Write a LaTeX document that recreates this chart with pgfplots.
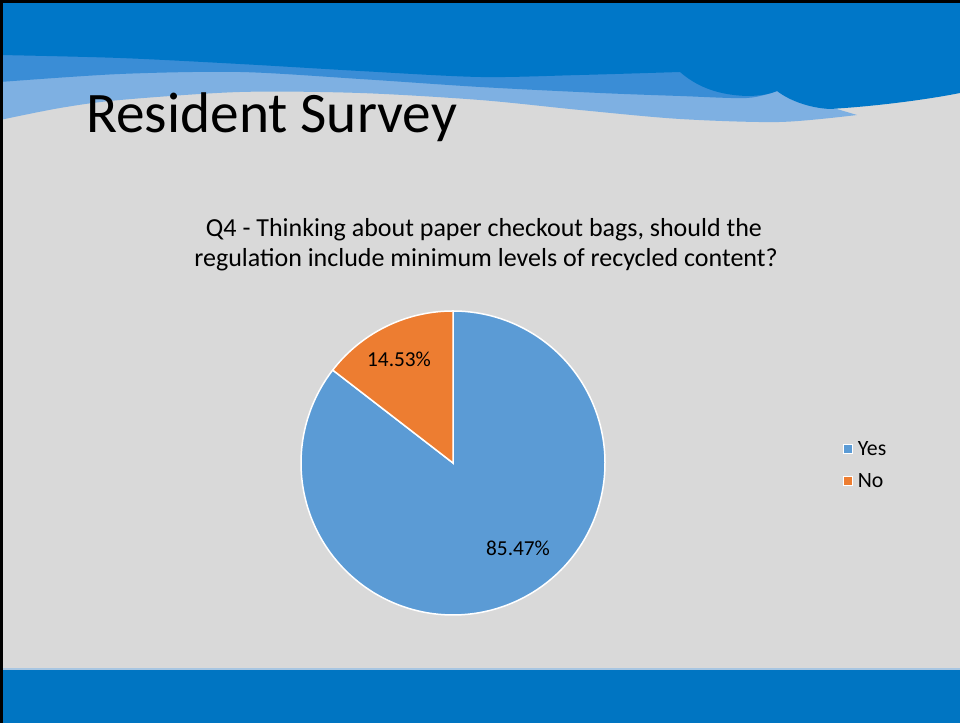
\documentclass[border=0pt]{standalone}
\usepackage{pgfplots}
\pgfplotsset{compat=1.18}
\usepackage{fontspec}
\setmainfont{Carlito}
\definecolor{bg}{HTML}{D9D9D9}
\definecolor{darkb}{HTML}{0077C8}
\definecolor{midb}{HTML}{3A8DD6}
\definecolor{lightb}{HTML}{7EB0E2}
\definecolor{bandb}{HTML}{0075C2}
\definecolor{bandline}{HTML}{A8C6E2}
\definecolor{yescol}{HTML}{5B9BD5}
\definecolor{nocol}{HTML}{ED7D31}
\def\yesval{85.47}
\def\noval{14.53}
\begin{document}
\begin{tikzpicture}
\begin{scope}[x=1bp,y=1bp]
\fill[bg] (0,0) rectangle (960,723);
% light band
\fill[lightb] (0,723) -- plot[smooth] coordinates {(0,603) (60,615) (120,623) (240,631) (360,630) (480,623) (580,613) (680,604) (780,601) (857,608)} -- (830,616) -- (830,723) -- cycle;
% medium band
\fill[midb] (0,723) -- plot[smooth] coordinates {(0,641) (120,649) (240,651) (360,644) (480,636) (600,630) (680,627) (747,625) (777,632)} -- (777,723) -- cycle;
% dark band
\fill[darkb] (0,723) -- plot[smooth] coordinates {(0,668) (120,665) (240,659) (360,652) (480,646) (580,648) (680,651)}
  .. controls (695,638) and (715,628) .. (747,627) .. controls (760,627) and (770,629) .. (777,632)
  .. controls (790,622) and (810,615) .. (830,614) .. controls (880,617) and (930,624) .. (960,630) -- (960,723) -- cycle;
% bottom band
\fill[bandb] (0,0) rectangle (960,53);
\fill[bandline] (0,53) rectangle (960,55);
% black border
\fill[black] (0,0) rectangle (3,723);
\fill[black] (0,720) rectangle (960,723);
% titles
\node[anchor=base west, inner sep=0pt, font=\fontsize{57.3bp}{68bp}\selectfont] at (86,590) {Resident Survey};
\node[anchor=base, inner sep=0pt, font=\fontsize{26bp}{31bp}\selectfont] at (484,486) {Q4 - Thinking about paper checkout bags, should the};
\node[anchor=base, inner sep=0pt, font=\fontsize{26bp}{31bp}\selectfont] at (486,456) {regulation include minimum levels of recycled content?};
\end{scope}
\begin{axis}[at={(453bp,260bp)}, anchor=origin, hide axis, scale only axis,
  width=304bp, height=304bp, xmin=-1, xmax=1, ymin=-1, ymax=1, clip=false,
  legend image code/.code={\draw[#1, line width=0.8bp] (0bp,-4.5bp) rectangle (9bp,4.5bp);},
  legend style={at={(axis cs:2.545,-0.01)}, anchor=west, draw=none, fill=none,
    font=\fontsize{21.8bp}{25bp}\selectfont, row sep=18bp,
    nodes={inner sep=0pt, text height=14bp, text depth=0pt},
    /tikz/every odd column/.append style={column sep=5bp}},
  legend cell align=left]
\addplot[fill=yescol, draw=white, line width=1.5bp, domain=90:{90-3.6*\yesval}, samples=200] ({cos(x)},{sin(x)}) -- (axis cs:0,0) -- cycle;
\addlegendentry{Yes}
\addplot[fill=nocol, draw=white, line width=1.5bp, domain={90-3.6*\yesval}:-270, samples=60] ({cos(x)},{sin(x)}) -- (axis cs:0,0) -- cycle;
\addlegendentry{No}
\node[font=\fontsize{21.3bp}{25bp}\selectfont] at (axis cs:-0.355,0.684) {14.53\%};
\node[font=\fontsize{21.3bp}{25bp}\selectfont] at (axis cs:0.428,-0.559) {85.47\%};
\end{axis}
\end{tikzpicture}
\end{document}
